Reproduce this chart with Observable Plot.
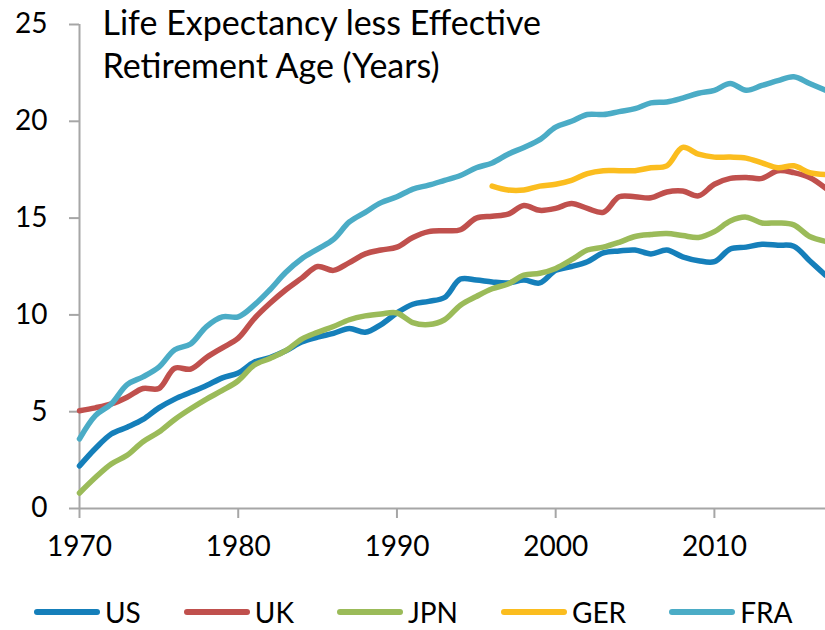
<!DOCTYPE html>
<html>
<head>
<meta charset="utf-8">
<script src="https://cdn.jsdelivr.net/npm/d3@7"></script>
<script src="https://cdn.jsdelivr.net/npm/@observablehq/plot@0.6"></script>
<style>
  html, body { margin: 0; padding: 0; background: #fff; }
  body { width: 825px; height: 630px; position: relative; overflow: hidden; font-family: Lato, sans-serif; }
  #legend { position: absolute; left: 34px; top: 598px; display: flex; align-items: center; font-family: Lato, sans-serif; font-size: 28px; line-height: 28px; color: #000; }
  .item { display: flex; align-items: center; margin-right: 43px; }
  .sw { width: 66px; height: 6px; border-radius: 3px; margin-right: 5px; }
</style>
</head>
<body>
<div id="chart"></div>
<div id="legend"></div>
<script>
const years = d3.range(1970, 2018);
const gerYears = d3.range(1996, 2018);
const series = ["US", "UK", "JPN", "GER", "FRA"];
const colors = ["#157fba", "#c0504d", "#9bbb59", "#fbbd1f", "#4bacc6"];
const xTicks = [1970, 1980, 1990, 2000, 2010];
const yTicks = [0, 5, 10, 15, 20, 25];
const title = "Life Expectancy less Effective\nRetirement Age (Years)";

const US = [2.2, 3.1, 3.85, 4.2, 4.6, 5.2, 5.65, 6.0, 6.35, 6.75, 7.0, 7.55, 7.8, 8.15, 8.6, 8.85, 9.05, 9.3, 9.1, 9.5,
  10.1, 10.55, 10.7, 10.9, 11.85, 11.8, 11.7, 11.65, 11.8, 11.65, 12.3, 12.5, 12.75, 13.2, 13.3, 13.35, 13.15, 13.35, 13.0, 12.8,
  12.75, 13.4, 13.5, 13.65, 13.6, 13.55, 12.8, 12.05];
const UK = [5.05, 5.2, 5.4, 5.75, 6.2, 6.2, 7.25, 7.2, 7.8, 8.3, 8.8, 9.8, 10.6, 11.3, 11.9, 12.5, 12.3, 12.7, 13.15, 13.35,
  13.5, 14.0, 14.3, 14.35, 14.4, 15.0, 15.1, 15.2, 15.65, 15.4, 15.5, 15.75, 15.5, 15.3, 16.1, 16.1, 16.05, 16.35, 16.4, 16.15,
  16.75, 17.05, 17.1, 17.05, 17.45, 17.35, 17.1, 16.55];
const JPN = [0.8, 1.6, 2.3, 2.75, 3.45, 3.95, 4.6, 5.15, 5.65, 6.1, 6.6, 7.4, 7.75, 8.15, 8.75, 9.1, 9.4, 9.75, 9.95, 10.05,
  10.1, 9.6, 9.5, 9.75, 10.5, 10.95, 11.35, 11.6, 12.05, 12.15, 12.4, 12.85, 13.35, 13.5, 13.75, 14.05, 14.15, 14.2, 14.1, 14.0,
  14.3, 14.85, 15.05, 14.75, 14.75, 14.65, 14.05, 13.8];
const GER = [16.65, 16.45, 16.45, 16.65, 16.75, 16.95, 17.3, 17.45, 17.45, 17.45, 17.6, 17.7, 18.65, 18.3, 18.15, 18.15,
  18.1, 17.85, 17.6, 17.7, 17.35, 17.25];
const FRA = [3.6, 4.8, 5.4, 6.4, 6.8, 7.3, 8.2, 8.5, 9.4, 9.9, 9.9, 10.5, 11.3, 12.2, 12.9, 13.4, 13.9, 14.8, 15.3, 15.8,
  16.1, 16.5, 16.7, 16.95, 17.2, 17.6, 17.85, 18.3, 18.65, 19.05, 19.7, 20.0, 20.35, 20.35, 20.5, 20.65, 20.95, 21.0, 21.2, 21.45,
  21.6, 21.95, 21.6, 21.85, 22.1, 22.3, 21.95, 21.6];

const table = [];
const add = (name, ys, vals) => ys.forEach((y, i) => table.push({country: name, year: y, value: vals[i]}));
add("US", years, US);
add("UK", years, UK);
add("JPN", years, JPN);
add("GER", gerYears, GER);
add("FRA", years, FRA);

const axisGray = "#a6a6a6";
const chart = Plot.plot({
  width: 825,
  height: 570,
  marginTop: 24,
  marginBottom: 62,
  marginLeft: 79,
  marginRight: 0,
  style: { fontFamily: "Lato, sans-serif", color: "#000", background: "#fff", overflow: "visible" },
  x: { domain: [1970, 2017] },
  y: { domain: [0, 25] },
  color: { domain: series, range: colors },
  marks: [
    Plot.axisY({ ticks: yTicks, tickSize: 10, tickPadding: 22, stroke: axisGray, strokeWidth: 2, fill: "#000", fontSize: 28, label: null }),
    Plot.axisX({ ticks: xTicks, tickFormat: d => String(d), tickSize: 10, tickPadding: 18, stroke: axisGray, strokeWidth: 2, fill: "#000", fontSize: 28, label: null }),
    Plot.ruleX([1970], { stroke: axisGray, strokeWidth: 2 }),
    Plot.ruleY([0], { stroke: axisGray, strokeWidth: 2 }),
    Plot.line(table, { x: "year", y: "value", z: "country", stroke: "country", strokeWidth: 5.5, curve: "catmull-rom" }),
    Plot.text([title], { frameAnchor: "top-left", dx: 23, dy: -20, lineAnchor: "top", textAnchor: "start", fontSize: 34, lineHeight: 1.27, fill: "#000" })
  ]
});
document.getElementById("chart").appendChild(chart);

const legend = document.getElementById("legend");
series.forEach((s, i) => {
  const item = document.createElement("div");
  item.className = "item";
  const sw = document.createElement("div");
  sw.className = "sw";
  sw.style.background = colors[i];
  const lab = document.createElement("span");
  lab.textContent = s;
  item.appendChild(sw);
  item.appendChild(lab);
  legend.appendChild(item);
});
</script>
</body>
</html>
